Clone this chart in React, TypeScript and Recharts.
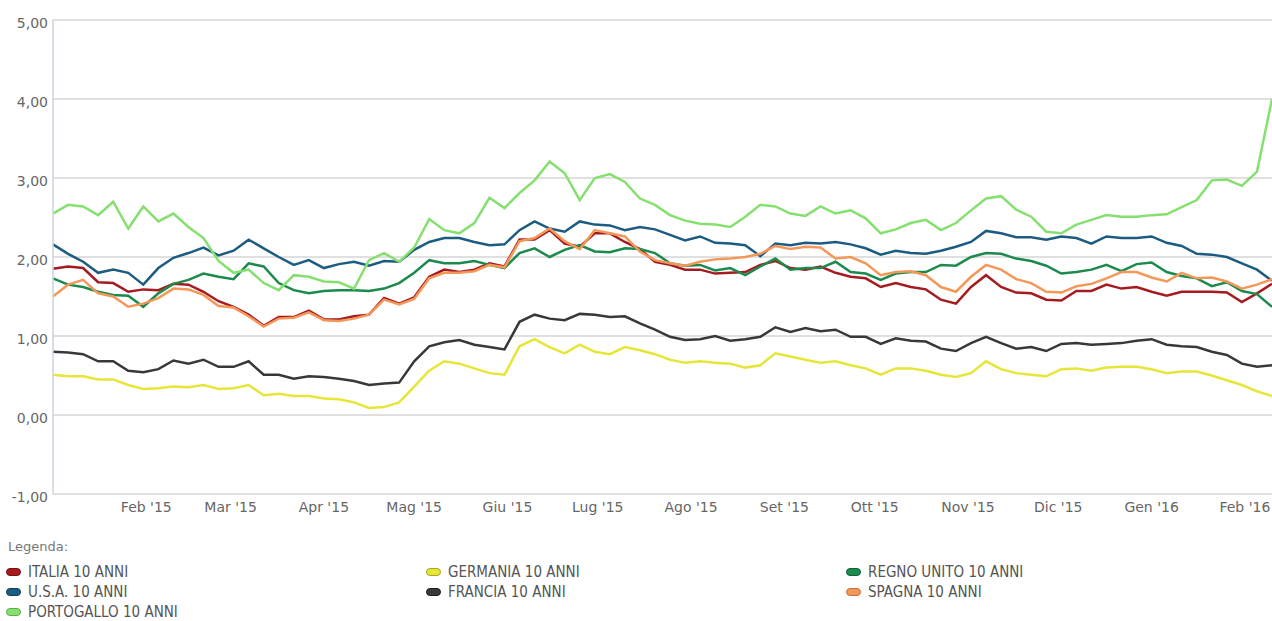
import { LineChart, Line, XAxis, YAxis, CartesianGrid } from 'recharts';

// one reading every 5 days, starting 1 Jan 2015
const DAY = 86400000;
const START = Date.UTC(2015, 0, 1);
const STEP_DAYS = 5;

const ITALIA = [
  1.85, 1.88, 1.86, 1.68, 1.67, 1.56, 1.59, 1.58, 1.66, 1.65, 1.56, 1.44,
  1.37, 1.27, 1.13, 1.24, 1.24, 1.32, 1.21, 1.21, 1.25, 1.27, 1.48, 1.41, 1.49,
  1.75, 1.84, 1.81, 1.84, 1.92, 1.88, 2.22, 2.22, 2.34, 2.17, 2.13, 2.3, 2.3,
  2.19, 2.1, 1.94, 1.9, 1.84, 1.84, 1.79, 1.8, 1.81, 1.9, 1.95, 1.86, 1.84, 1.88,
  1.8, 1.75, 1.73, 1.62, 1.67, 1.62, 1.59, 1.46, 1.41, 1.62, 1.77, 1.62, 1.55,
  1.54, 1.46, 1.45, 1.57, 1.57, 1.65, 1.6, 1.62, 1.56, 1.51, 1.56, 1.56, 1.56, 1.55, 1.43, 1.54, 1.66
];
const GERMANIA = [
  0.51, 0.49, 0.49, 0.45, 0.45, 0.38, 0.33, 0.34, 0.36, 0.35, 0.38, 0.33,
  0.34, 0.38, 0.25, 0.27, 0.24, 0.24, 0.21, 0.2, 0.16, 0.09, 0.1, 0.16, 0.36,
  0.56, 0.68, 0.65, 0.59, 0.53, 0.51, 0.87, 0.96, 0.86, 0.78, 0.89, 0.8, 0.77,
  0.86, 0.82, 0.77, 0.7, 0.66, 0.68, 0.66, 0.65, 0.6, 0.63, 0.78, 0.74, 0.7, 0.66,
  0.68, 0.63, 0.59, 0.51, 0.59, 0.59, 0.56, 0.51, 0.48, 0.53, 0.68, 0.58, 0.53,
  0.51, 0.49, 0.58, 0.59, 0.56, 0.6, 0.61, 0.61, 0.58, 0.53, 0.55, 0.55, 0.5, 0.44, 0.38, 0.3, 0.24
];
const REGNO_UNITO = [
  1.73, 1.65, 1.62, 1.56, 1.52, 1.51, 1.37, 1.54, 1.66, 1.71, 1.79, 1.75,
  1.72, 1.92, 1.88, 1.67, 1.58, 1.54, 1.57, 1.58, 1.58, 1.57, 1.6, 1.67, 1.8,
  1.96, 1.92, 1.92, 1.95, 1.9, 1.86, 2.05, 2.11, 2.0, 2.09, 2.15, 2.07, 2.06,
  2.11, 2.1, 2.05, 1.92, 1.89, 1.9, 1.83, 1.86, 1.77, 1.88, 1.98, 1.84, 1.86, 1.86,
  1.94, 1.81, 1.79, 1.71, 1.79, 1.81, 1.81, 1.9, 1.89, 2.0, 2.05, 2.04, 1.98,
  1.95, 1.89, 1.79, 1.81, 1.84, 1.9, 1.82, 1.91, 1.93, 1.81, 1.76, 1.73, 1.63, 1.68, 1.57, 1.53, 1.37
];
const USA = [
  2.16, 2.04, 1.94, 1.8, 1.84, 1.8, 1.65, 1.86, 1.99, 2.05, 2.12, 2.02,
  2.08, 2.22, 2.11, 2.0, 1.9, 1.96, 1.86, 1.91, 1.94, 1.89, 1.95, 1.94, 2.09,
  2.19, 2.24, 2.24, 2.19, 2.15, 2.16, 2.34, 2.45, 2.36, 2.32, 2.45, 2.41, 2.4,
  2.34, 2.38, 2.35, 2.28, 2.21, 2.26, 2.18, 2.17, 2.15, 2.01, 2.17, 2.15, 2.18, 2.17,
  2.19, 2.16, 2.11, 2.03, 2.08, 2.05, 2.04, 2.08, 2.13, 2.19, 2.33, 2.3, 2.25,
  2.25, 2.22, 2.26, 2.24, 2.17, 2.26, 2.24, 2.24, 2.26, 2.18, 2.14, 2.04, 2.03, 2.0, 1.92, 1.84, 1.7
];
const FRANCIA = [
  0.8, 0.79, 0.77, 0.68, 0.68, 0.56, 0.54, 0.58, 0.69, 0.65, 0.7, 0.61,
  0.61, 0.68, 0.51, 0.51, 0.46, 0.49, 0.48, 0.46, 0.43, 0.38, 0.4, 0.41, 0.68,
  0.87, 0.92, 0.95, 0.89, 0.86, 0.83, 1.18, 1.27, 1.22, 1.2, 1.28, 1.27, 1.24,
  1.25, 1.16, 1.08, 0.99, 0.95, 0.96, 1.0, 0.94, 0.96, 0.99, 1.11, 1.05, 1.1, 1.06,
  1.08, 0.99, 0.99, 0.9, 0.97, 0.94, 0.93, 0.84, 0.81, 0.91, 0.99, 0.91, 0.84,
  0.86, 0.81, 0.9, 0.91, 0.89, 0.9, 0.91, 0.94, 0.96, 0.89, 0.87, 0.86, 0.8, 0.76, 0.65, 0.61, 0.63
];
const SPAGNA = [
  1.5, 1.65, 1.71, 1.54, 1.5, 1.37, 1.41, 1.48, 1.6, 1.59, 1.52, 1.38,
  1.36, 1.25, 1.12, 1.22, 1.23, 1.3, 1.2, 1.19, 1.22, 1.27, 1.46, 1.4, 1.47,
  1.73, 1.8, 1.8, 1.82, 1.9, 1.87, 2.2, 2.24, 2.36, 2.2, 2.1, 2.34, 2.3,
  2.26, 2.07, 1.96, 1.92, 1.89, 1.94, 1.97, 1.98, 2.0, 2.04, 2.14, 2.1, 2.13, 2.12,
  1.98, 2.0, 1.92, 1.77, 1.81, 1.82, 1.77, 1.62, 1.56, 1.75, 1.9, 1.84, 1.72,
  1.67, 1.56, 1.55, 1.63, 1.66, 1.73, 1.81, 1.81, 1.74, 1.69, 1.8, 1.73, 1.74, 1.69, 1.6, 1.65, 1.72
];
const PORTOGALLO = [
  2.55, 2.66, 2.64, 2.53, 2.7, 2.36, 2.64, 2.45, 2.55, 2.38, 2.24, 1.95,
  1.8, 1.84, 1.67, 1.58, 1.77, 1.75, 1.69, 1.68, 1.6, 1.96, 2.05, 1.94, 2.12,
  2.48, 2.34, 2.3, 2.43, 2.75, 2.62, 2.81, 2.97, 3.21, 3.06, 2.72, 3.0, 3.05,
  2.95, 2.74, 2.66, 2.53, 2.46, 2.42, 2.41, 2.38, 2.51, 2.66, 2.64, 2.55, 2.52, 2.64,
  2.55, 2.59, 2.49, 2.3, 2.35, 2.43, 2.47, 2.34, 2.43, 2.59, 2.74, 2.77, 2.6,
  2.51, 2.32, 2.3, 2.41, 2.47, 2.53, 2.51, 2.51, 2.53, 2.54, 2.63, 2.72, 2.97, 2.98, 2.9, 3.08, 4.0
];

const MESI = ['Gen', 'Feb', 'Mar', 'Apr', 'Mag', 'Giu', 'Lug', 'Ago', 'Set', 'Ott', 'Nov', 'Dic'];
// first day of each labelled month, [year, monthIndex]
const MONTH_TICKS: [number, number][] = [
  [2015, 1], [2015, 2], [2015, 3], [2015, 4], [2015, 5], [2015, 6], [2015, 7],
  [2015, 8], [2015, 9], [2015, 10], [2015, 11], [2016, 0], [2016, 1]
];
const Y_TICKS = [-1, 0, 1, 2, 3, 4, 5];

const SERIES = [
  { key: 'italia', name: 'ITALIA 10 ANNI', values: ITALIA, color: '#a51b1f', border: '#7a1015' },
  { key: 'germania', name: 'GERMANIA 10 ANNI', values: GERMANIA, color: '#e6e638', border: '#a8a820' },
  { key: 'regno', name: 'REGNO UNITO 10 ANNI', values: REGNO_UNITO, color: '#1b8a4c', border: '#126236' },
  { key: 'usa', name: 'U.S.A. 10 ANNI', values: USA, color: '#1c5c80', border: '#123f59' },
  { key: 'francia', name: 'FRANCIA 10 ANNI', values: FRANCIA, color: '#383838', border: '#1e1e1e' },
  { key: 'spagna', name: 'SPAGNA 10 ANNI', values: SPAGNA, color: '#f4985a', border: '#c9703a' },
  { key: 'portogallo', name: 'PORTOGALLO 10 ANNI', values: PORTOGALLO, color: '#86e070', border: '#5cb048' }
];

const data = ITALIA.map((_, i) => {
  const row: Record<string, number> = { date: START + i * STEP_DAYS * DAY };
  SERIES.forEach((s) => {
    row[s.key] = s.values[i];
  });
  return row;
});

const xTicks = MONTH_TICKS.map(([y, m]) => Date.UTC(y, m, 1));

const fmtDate = (t: number) => {
  const d = new Date(t);
  return `${MESI[d.getUTCMonth()]} '${String(d.getUTCFullYear()).slice(2)}`;
};

export default function App() {
  return (
    <div
      style={{
        position: 'absolute',
        left: 0,
        top: 0,
        width: 1272,
        height: 621,
        background: '#fff',
        fontFamily: '"DejaVu Sans", sans-serif',
        overflow: 'hidden'
      }}
    >
      <LineChart width={1272} height={530} data={data} margin={{ top: 20, right: 0, bottom: 0, left: 0 }}>
        <CartesianGrid vertical={false} stroke="#d6d6d6" strokeWidth={1.5} />
        <XAxis
          dataKey="date"
          type="number"
          domain={[data[0].date, data[data.length - 1].date]}
          ticks={xTicks}
          interval={0}
          tickFormatter={fmtDate}
          axisLine={false}
          tickLine={false}
          height={36}
          tick={{ fill: '#666', fontSize: 14 }}
        />
        <YAxis
          width={53}
          domain={[-1, 5]}
          ticks={Y_TICKS}
          interval={0}
          allowDataOverflow
          tickFormatter={(v: number) => v.toFixed(2).replace('.', ',')}
          axisLine={{ stroke: '#c9d5e2', strokeWidth: 1.5 }}
          tickLine={false}
          tickSize={3}
          tick={{ fill: '#666', fontSize: 14, dy: 3 }}
        />
        {SERIES.map((s) => (
          <Line
            key={s.key}
            dataKey={s.key}
            name={s.name}
            type="linear"
            stroke={s.color}
            strokeWidth={2.5}
            dot={false}
            isAnimationActive={false}
          />
        ))}
      </LineChart>

      <div style={{ position: 'absolute', left: 8, top: 539, fontSize: 13, color: '#777' }}>Legenda:</div>
      {SERIES.map((s, i) => (
        <div
          key={s.key}
          style={{
            position: 'absolute',
            left: 6 + (i % 3) * 420,
            top: 563 + Math.floor(i / 3) * 20,
            height: 18,
            display: 'flex',
            alignItems: 'center',
            fontFamily: '"DejaVu Sans Condensed", "DejaVu Sans", sans-serif',
            fontSize: 15,
            color: '#555',
            whiteSpace: 'nowrap'
          }}
        >
          <span
            style={{
              display: 'inline-block',
              width: 13,
              height: 6,
              borderRadius: 4,
              background: s.color,
              border: `1px solid ${s.border}`,
              marginRight: 7
            }}
          />
          {s.name}
        </div>
      ))}
    </div>
  );
}
